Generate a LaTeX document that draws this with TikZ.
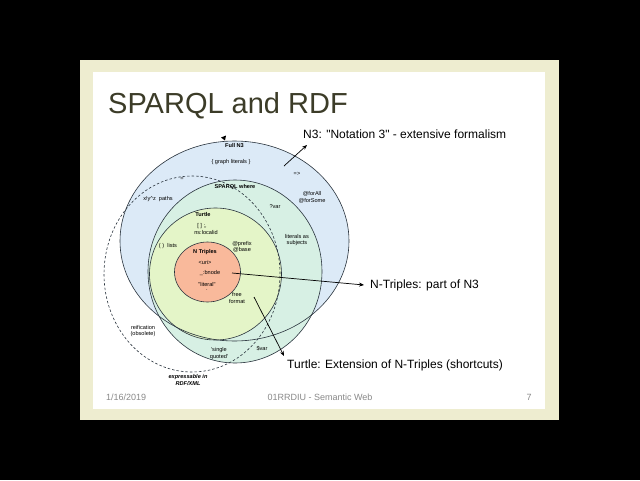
\documentclass[tikz,border=0pt]{standalone}
\usepackage{fontspec}
\setmainfont{Liberation Sans}
\usetikzlibrary{arrows.meta}
\definecolor{slidebeige}{RGB}{238,237,208}
\definecolor{titlecol}{RGB}{60,60,40}
\definecolor{footcol}{RGB}{137,137,137}
\definecolor{nthree}{RGB}{220,234,247}
\definecolor{sparql}{RGB}{215,240,228}
\definecolor{turtle}{RGB}{228,245,200}
\definecolor{ntriples}{RGB}{249,185,155}
\definecolor{edge}{RGB}{40,50,60}
\tikzset{
  tiny/.style={font=\fontsize{5.6}{6.4}\selectfont, inner sep=0pt, align=center},
  tinyb/.style={tiny, font=\fontsize{5.6}{6.4}\selectfont\bfseries},
  callout/.style={font=\fontsize{12}{14}\selectfont, anchor=west, inner sep=0pt},
  foot/.style={font=\fontsize{9}{11}\selectfont, text=footcol, inner sep=0pt},
  ring/.style={draw=edge, line width=0.6pt},
  pointer/.style={draw=black, line width=0.7pt, -{Stealth[length=5pt,width=4pt]}}
}
\begin{document}
\begin{tikzpicture}[x=1pt,y=-1pt]
\fill[black] (0,0) rectangle (640,480);
\useasboundingbox (0,0) rectangle (640,480);
\fill[slidebeige] (80,60) rectangle (559,420);
\fill[white] (93,72) rectangle (545,409);

% fills
\fill[nthree] (234.5,241) ellipse [x radius=114.5pt, y radius=100pt];
\fill[sparql] (235,271.5) ellipse [x radius=87pt, y radius=91.5pt];
\fill[turtle] (215.5,274) ellipse [x radius=66pt, y radius=66pt];
% outlines
\draw[ring] (234.5,241) ellipse [x radius=114.5pt, y radius=100pt];
\draw[ring] (235,271.5) ellipse [x radius=87pt, y radius=91.5pt];
\draw[ring] (215.5,274) ellipse [x radius=66pt, y radius=66pt];
\draw[ring, dashed, dash pattern=on 2.5pt off 2pt] (192,274) ellipse [x radius=88pt, y radius=98pt];
\fill[ntriples, draw=edge, line width=0.6pt] (207.5,272) ellipse [x radius=33pt, y radius=30pt];

% tiny arrowhead on top of N3
\fill[black] (221,137.5) -- (226,135.5) -- (225,140.5) -- cycle;

% diagram texts
\node[tinyb] (fulln3) at (234.5,145.5) {Full N3};
\node[tiny] (graphlit) at (231,162) {\{ graph literals \}};
\node[tiny] (eq) at (182,179) {=};
\node[tiny] (impl) at (297,174) {=>};
\node[tinyb] (sparqlw) at (235,187) {SPARQL where};
\node[tiny] (paths) at (158,199) {x!y\textasciicircum z\ \ paths};
\node[tiny] (forall) at (312,197.5) {@forAll\\@forSome};
\node[tiny] (qvar) at (275,207) {?var};
\node[tinyb] (turtlelbl) at (203,214) {Turtle};
\node[tiny] (brk) at (202,226) {[ ] ;,};
\node[tiny] (localid) at (206,232.5) {ns:localid};
\node[tiny] (lists) at (168,246) {( )\ \ lists};
\node[tiny] (prefix) at (242,247) {@prefix\\@base};
\node[tiny] (litsub) at (297,240) {literals as\\subjects};
\node[tinyb] (ntlbl) at (205,252) {N Triples};
\node[tiny] (uri) at (205,262) {<uri>};
\node[tiny] (bnode) at (210,273) {\_:bnode};
\node[tiny] (literal) at (207,284) {\textquotedbl literal\textquotedbl};
\node[tiny] (dot) at (207,290) {.};
\node[tiny] (free) at (237,298) {free\\format};
\node[tiny] (reif) at (143,331) {reification\\(obsolete)};
\node[tiny] (single) at (219,353.5) {\textquotesingle single\\quoted\textquotesingle};
\node[tiny] (dvar) at (262,349) {\$var};
\node[tiny, font=\fontsize{5.6}{6.4}\selectfont\itshape\bfseries] (rdfxml) at (188,380) {expressable in\\RDF/XML};

% callouts
\node[callout] (n3c) at (303,134) {N3: \textquotedbl Notation 3\textquotedbl\ - extensive formalism};
\node[callout] (ntc) at (370,285) {N-Triples: part of N3};
\node[callout] (ttc) at (287,365) {Turtle: Extension of N-Triples (shortcuts)};

\coordinate (n3from) at (284,166);
\coordinate (n3to) at (307,145);
\coordinate (ntfrom) at (232,273);
\coordinate (ntto) at (364,285);
\coordinate (ttfrom) at (254,297);
\coordinate (ttto) at (284,356);
\draw[pointer] (n3from) -- (n3to);
\draw[pointer] (ntfrom) -- (ntto);
\draw[pointer] (ttfrom) -- (ttto);

% title and footer
\node[anchor=west, inner sep=0pt, text=titlecol, font=\fontsize{29}{33}\selectfont] (title) at (108,106) {SPARQL and RDF};
\node[foot, anchor=west] (date) at (106,397) {1/16/2019};
\node[foot] (course) at (320,397) {01RRDIU - Semantic Web};
\node[foot] (page) at (529,397) {7};
\end{tikzpicture}
\end{document}
